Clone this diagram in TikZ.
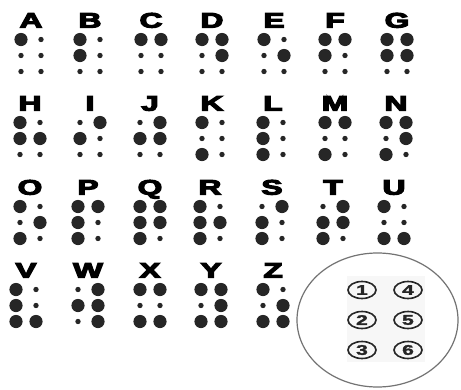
\documentclass[tikz,border=0pt]{standalone}
\usepackage{graphicx}
\usepackage{fontspec}
\setmainfont{Liberation Sans}
\newfontfamily\letterfont{Liberation Sans Bold}[FakeBold=5]
\newfontfamily\digitfont{Liberation Sans Bold}[FakeBold=2]
\usetikzlibrary{shapes.geometric}
\definecolor{dotc}{HTML}{262626}
\tikzset{
  lettr/.style={font=\letterfont\fontsize{21}{21}\selectfont, inner sep=0pt,
    text height=15.2pt, text depth=0pt, text=black},
  numoval/.style={ellipse, draw=dotc, line width=1.6pt, minimum width=28pt, minimum height=17pt,
    inner sep=0pt, font=\digitfont\fontsize{14}{14}\selectfont, text=dotc},
}
\newcommand{\wide}[1]{\scalebox{1.5}[1]{#1}}
\begin{document}
\begin{tikzpicture}[x=1pt,y=-1pt]
\useasboundingbox (0,0) rectangle (461,389);
\fill[white] (0,0) rectangle (461,389);
\foreach \x/\y/\L/\a/\b/\c/\d/\e/\f in {
  31/20/A/1/0/0/0/0/0, 90/20/B/1/1/0/0/0/0, 151/20/C/1/0/0/1/0/0, 212/20/D/1/0/0/1/1/0,
  274/20/E/1/0/0/0/1/0, 335/20/F/1/1/0/1/0/0, 397/20/G/1/1/0/1/1/0,
  30/103/H/1/1/0/0/1/0, 90/103/I/0/1/0/1/0/0, 150/103/J/0/1/0/1/1/0, 212/103/K/1/0/1/0/0/0,
  273/103/L/1/1/1/0/0/0, 335/103/M/1/0/1/1/0/0, 396/103/N/1/0/1/1/1/0,
  30/187/O/1/0/1/0/1/0, 88/187/P/1/1/1/1/0/0, 150/187/Q/1/1/1/1/1/0, 210/187/R/1/1/1/0/1/0,
  272/187/S/0/1/1/1/0/0, 333/187/T/0/1/1/1/1/0, 394/187/U/1/0/1/0/0/1,
  26/270/V/1/1/1/0/0/1, 88/270/W/0/1/0/1/1/1, 150/270/X/1/0/1/1/0/1,
  211/270/Y/1/0/1/1/1/1, 273/270/Z/1/0/1/0/1/1}
{
  \node[lettr] (L\L) at (\x,\y) {\wide{\L}};
  \foreach \v [count=\k] in {\a,\b,\c,\d,\e,\f} {
    \pgfmathsetmacro{\dx}{\k>3 ? 10 : -10}
    \pgfmathsetmacro{\dy}{19.5+16*mod(\k-1,3)}
    \pgfmathsetmacro{\rr}{\v==1 ? 6.6 : 2.7}
    \fill[dotc] (\x+\dx,\y+\dy) circle[radius=\rr pt];
  }
}
% key
\fill[black!3] (347,276) rectangle (425,362);
\draw[black!55, line width=1.2pt] (377.5,320) ellipse[x radius=80.5pt, y radius=67pt];
\node[numoval] (n1) at (362,290) {\wide{1}};
\node[numoval] (n4) at (408,290) {\wide{4}};
\node[numoval] (n2) at (362,320) {\wide{2}};
\node[numoval] (n5) at (408,320) {\wide{5}};
\node[numoval] (n3) at (362,350) {\wide{3}};
\node[numoval] (n6) at (408,350) {\wide{6}};
\end{tikzpicture}
\end{document}
